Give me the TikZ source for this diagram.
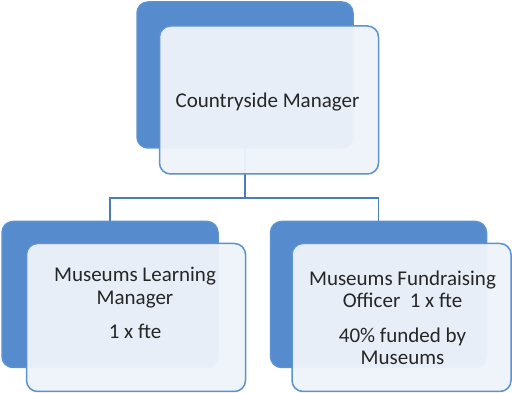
\documentclass[tikz,border=0pt]{standalone}
\usepackage{fontspec}
\setmainfont{Carlito}
\definecolor{backblue}{RGB}{86,140,205}
\definecolor{edgeblue}{RGB}{92,146,208}
\definecolor{paleblue}{RGB}{238,243,250}
\definecolor{linkblue}{RGB}{74,126,187}
\definecolor{textgrey}{RGB}{38,38,38}
\tikzset{
  back/.style={draw=edgeblue, fill=backblue, line width=1.5pt, rounded corners=11pt,
    minimum width=216pt, minimum height=146pt, inner sep=0pt},
  front/.style={draw=edgeblue, fill=paleblue, fill opacity=0.96, line width=1.5pt,
    rounded corners=11pt, minimum width=219pt, minimum height=148pt, inner sep=0pt},
  boxtext/.style={align=center, inner sep=0pt, text=textgrey,
    font=\fontsize{21}{22.5}\selectfont},
  link/.style={draw=linkblue, line width=1.5pt}
}
\begin{document}
\begin{tikzpicture}[x=1pt, y=1pt]
\useasboundingbox (0,0) rectangle (512,393);
%% Back boxes
\node[back](cmB) at (245, 318) {};
\node[back](mlB) at (110, 98.5) {};
\node[back](mfB) at (378.5, 98.5) {};
%% Lines
\coordinate (bus) at (245, 195);
\draw[link] (cmB.south) -- (bus) -| (mlB.north);
\draw[link] (bus) -| (mfB.north);
%% Front boxes
\node[front](cm) at (269, 293) {};
\node[front](ml) at (136, 75.5) {};
\node[front](mf) at (401.5, 75.5) {};
%% Texts
\node[boxtext](cmT) at (267.5, 290.5) {Countryside Manager};
\node[boxtext](mlT) at (135, 90) {Museums Learning\\Manager\\[11.5pt]1 x fte};
\node[boxtext](mfT) at (402.5, 75) {Museums Fundraising\\Officer~~1 x fte\\[12pt]40\% funded by\\Museums};
\end{tikzpicture}
\end{document}
